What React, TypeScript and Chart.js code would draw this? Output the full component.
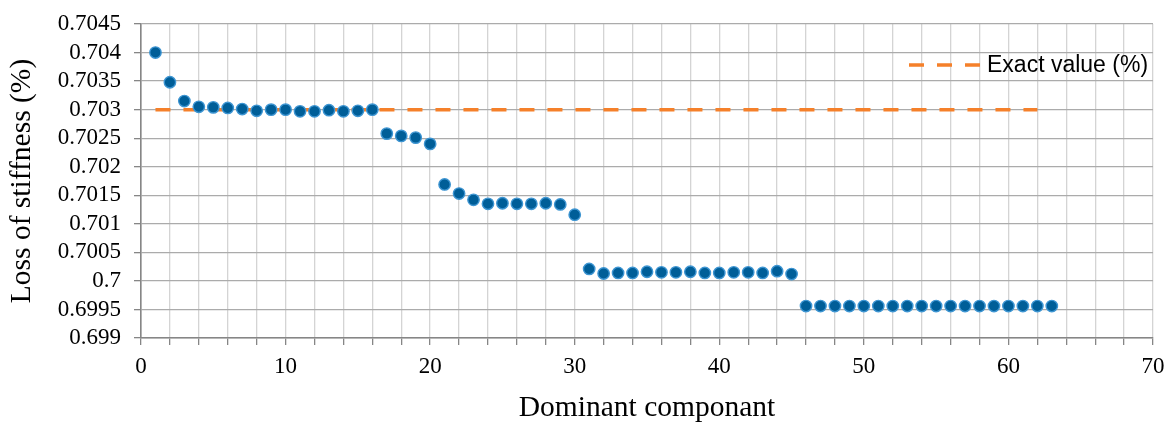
import React, { useEffect, useRef } from "react";
import { Chart, registerables } from "chart.js";

Chart.register(...registerables);

const componentNumbers = [
  1, 2, 3, 4, 5, 6, 7, 8, 9, 10, 11, 12, 13, 14, 15, 16, 17, 18, 19, 20, 21,
  22, 23, 24, 25, 26, 27, 28, 29, 30, 31, 32, 33, 34, 35, 36, 37, 38, 39, 40,
  41, 42, 43, 44, 45, 46, 47, 48, 49, 50, 51, 52, 53, 54, 55, 56, 57, 58, 59,
  60, 61, 62, 63,
];

const lossOfStiffness = [
  0.704, 0.70348, 0.70315, 0.70305, 0.70304, 0.70303, 0.70301, 0.70298,
  0.703, 0.703, 0.70297, 0.70297, 0.70299, 0.70297, 0.70298, 0.703,
  0.70258, 0.70254, 0.70251, 0.7024, 0.70169, 0.70153, 0.70142, 0.70135,
  0.70136, 0.70135, 0.70135, 0.70136, 0.70134, 0.70116,
  0.70021, 0.70013, 0.70014, 0.70014, 0.70016, 0.70015, 0.70015, 0.70016,
  0.70014, 0.70014, 0.70015, 0.70015, 0.70014, 0.70017, 0.70012,
  0.69956, 0.69956, 0.69956, 0.69956, 0.69956, 0.69956, 0.69956, 0.69956,
  0.69956, 0.69956, 0.69956, 0.69956, 0.69956, 0.69956, 0.69956, 0.69956,
  0.69956, 0.69956,
];

const exactX = [1, 62];
const exactY = [0.703, 0.703];
const exactLabel = "Exact value (%)";

const yTickLabels = [
  "0.699", "0.6995", "0.7", "0.7005", "0.701", "0.7015", "0.702", "0.7025",
  "0.703", "0.7035", "0.704", "0.7045",
];
const xTickLabels = ["0", "10", "20", "30", "40", "50", "60", "70"];

const xTitle = "Dominant componant";
const yTitle = "Loss of stiffness (%)";

const ORANGE = "#F5802A";
const AXIS = "#868686";
const SERIF = '"Liberation Serif", "Times New Roman", serif';

export default function App() {
  const ref = useRef<HTMLCanvasElement | null>(null);

  useEffect(() => {
    document.body.style.margin = "0";
    const canvas = ref.current!;
    const legendPlugin = {
      id: "insideLegend",
      afterDatasetsDraw(chart: any) {
        const ctx = chart.ctx;
        const y = 65;
        ctx.save();
        ctx.strokeStyle = ORANGE;
        ctx.lineWidth = 3.5;
        ctx.setLineDash([15, 13]);
        ctx.beginPath();
        ctx.moveTo(909, y);
        ctx.lineTo(982, y);
        ctx.stroke();
        ctx.setLineDash([]);
        ctx.fillStyle = "#000";
        ctx.font = '23px "Liberation Sans", Arial, sans-serif';
        ctx.textBaseline = "middle";
        ctx.textAlign = "left";
        ctx.fillText(exactLabel, 987, y + 1);
        ctx.restore();
      },
    };

    const chart = new Chart(canvas, {
      type: "scatter",
      data: {
        datasets: [
          {
            label: "Loss of stiffness",
            data: componentNumbers.map((x, i) => ({ x, y: lossOfStiffness[i] })),
            showLine: false,
            pointRadius: 5.7,
            pointBackgroundColor: "#005E98",
            pointBorderColor: "#3D95D2",
            pointBorderWidth: 1.4,
            order: 0,
          } as any,
          {
            label: exactLabel,
            type: "line",
            data: exactX.map((x, i) => ({ x, y: exactY[i] })),
            borderColor: ORANGE,
            borderWidth: 3.5,
            borderDash: [15, 13],
            pointRadius: 0,
            fill: false,
            order: 1,
          } as any,
        ],
      },
      options: {
        responsive: false,
        animation: false,
        devicePixelRatio: 1,
        layout: { padding: { top: 24, right: 13, left: 0, bottom: 0 } },
        plugins: {
          legend: { display: false },
          tooltip: { enabled: false },
        },
        scales: {
          x: {
            type: "linear",
            min: 0,
            max: 70,
            afterFit: (s: any) => {
              s.height = 85;
              s.paddingLeft = 0;
              s.paddingRight = 0;
            },
            ticks: {
              stepSize: 2,
              autoSkip: false,
              maxRotation: 0,
              padding: 8,
              color: "#000",
              font: { family: SERIF, size: 23 },
              callback: (v: any) => {
                const idx = xTickLabels.indexOf(String(v));
                return idx >= 0 ? xTickLabels[idx] : "";
              },
            },
            grid: {
              color: "#D4D4D4",
              lineWidth: 1.3,
              tickLength: 7,
              tickColor: AXIS,
            },
            border: { color: AXIS, width: 1.6 },
            title: {
              display: true,
              text: xTitle,
              color: "#000",
              padding: { top: 0, bottom: 0 },
              font: { family: SERIF, size: 29.5, lineHeight: 1 },
            },
          },
          y: {
            type: "linear",
            min: 0.699,
            max: 0.7045,
            afterFit: (s: any) => {
              s.width = 141;
              s.paddingTop = 0;
              s.paddingBottom = 0;
            },
            ticks: {
              stepSize: 0.0005,
              autoSkip: false,
              padding: 13,
              color: "#000",
              font: { family: SERIF, size: 23 },
              callback: (v: any) => {
                const idx = Math.round((Number(v) - 0.699) / 0.0005);
                return yTickLabels[idx] ?? "";
              },
            },
            grid: {
              color: "#ABABAB",
              lineWidth: 1.3,
              tickLength: 7,
              tickColor: AXIS,
            },
            border: { color: AXIS, width: 1.6 },
            title: {
              display: true,
              text: yTitle,
              color: "#000",
              padding: { top: 7, bottom: 0 },
              font: { family: SERIF, size: 29.5, lineHeight: 1 },
            },
          },
        },
      } as any,
      plugins: [legendPlugin],
    });
    return () => chart.destroy();
  }, []);

  return (
    <div style={{ width: 1166, height: 423 }}>
      <canvas ref={ref} width={1166} height={423} />
    </div>
  );
}
